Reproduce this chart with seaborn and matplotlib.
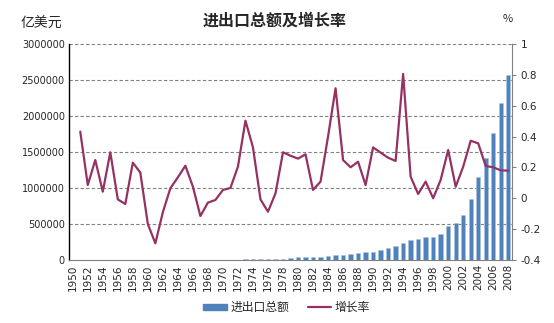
import matplotlib
matplotlib.use("Agg")
import matplotlib.pyplot as plt
import seaborn as sns
import numpy as np
import pandas as pd
from matplotlib.patches import Patch
from matplotlib.lines import Line2D

years = list(range(1950, 2009))
total_trade = [113000, 196000, 194000, 237000, 244000, 314000, 321000, 310000, 387000, 438000,
               381000, 294000, 266000, 292000, 347000, 425000, 462000, 416000, 405000, 403000,
               459000, 484000, 630000, 1098000, 1457000, 1475000, 1343000, 1480000, 2064000, 2933000,
               3814000, 4403000, 4161000, 4362000, 5355000, 6960000, 7385000, 8265000, 10279000, 11168000,
               11544000, 13570000, 16553000, 19570000, 23662000, 28086000, 28988000, 32516000, 32395000, 36063000,
               47429000, 50965000, 62077000, 85099000, 115455000, 142191000, 176040000, 217373000, 256326000]
total_trade = [v / 100 for v in total_trade]
growth_years = list(range(1951, 2009))
growth_rate = [0.432, 0.086, 0.248, 0.043, 0.298, -0.007, -0.037, 0.231, 0.166, -0.167,
               -0.292, -0.09, 0.065, 0.136, 0.211, 0.075, -0.115, -0.028, -0.011, 0.054,
               0.067, 0.205, 0.503, 0.33, -0.007, -0.087, 0.032, 0.298, 0.276, 0.257,
               0.285, 0.054, 0.108, 0.40, 0.713, 0.248, 0.201, 0.237, 0.086, 0.330,
               0.296, 0.263, 0.242, 0.806, 0.140, 0.028, 0.108, 0.0, 0.119, 0.313,
               0.075, 0.205, 0.373, 0.356, 0.209, 0.201, 0.181, 0.179]
left_ticks = [0, 500000, 1000000, 1500000, 2000000, 2500000, 3000000]
right_ticks = [-0.4, -0.2, 0, 0.2, 0.4, 0.6, 0.8, 1.0]
right_labels = ["-0.4", "-0.2", "0", "0.2", "0.4", "0.6", "0.8", "1"]
bar_label = "进出口总额"
line_label = "增长率"
title = "进出口总额及增长率"

sns.set_style("white")
plt.rcParams['font.family'] = ['Noto Sans CJK SC', 'DejaVu Sans']

bar_color = "#4F81BD"
line_color = "#953163"

fig = plt.figure(figsize=(5.54, 3.23), dpi=100)
ax = fig.add_axes([69/554, 1 - 260/323, (512-69)/554, (260-44)/323])

df_bar = pd.DataFrame({"year": [str(y) for y in years], "value": total_trade})
sns.barplot(data=df_bar, x="year", y="value", ax=ax, color=bar_color, width=0.58,
            edgecolor="#A9C2E0", linewidth=0.4, saturation=1)
ax.set_xlim(-0.5, len(years) - 0.5)
ax.set_ylim(0, 3000000)
ax.set_yticks(left_ticks)
ax.set_yticklabels([str(t) for t in left_ticks], fontsize=7, family="DejaVu Sans")
ax.set_xticks(range(0, len(years), 2))
ax.set_xticklabels([str(y) for y in years[::2]], rotation=90, fontsize=7.5, family="DejaVu Sans")
ax.set_xlabel("")
ax.set_ylabel("")
for t in left_ticks[1:]:
    ax.axhline(t, color="#808080", linestyle=(0, (3, 2)), linewidth=0.8, zorder=0)
for s in ["top", "right"]:
    ax.spines[s].set_visible(False)
ax.spines["left"].set_color("black")
ax.spines["left"].set_linewidth(1)
ax.spines["bottom"].set_color("#808080")
ax.tick_params(axis="both", length=0, pad=3)

ax2 = ax.twinx()
df_line = pd.DataFrame({"pos": [y - 1950 for y in growth_years], "rate": growth_rate})
sns.lineplot(data=df_line, x="pos", y="rate", ax=ax2, color=line_color, linewidth=1.6)
ax2.set_xlim(-0.5, len(years) - 0.5)
ax2.set_ylim(-0.4, 1.0)
ax2.set_yticks(right_ticks)
ax2.set_yticklabels(right_labels, fontsize=7.5, family="DejaVu Sans")
ax2.set_ylabel("")
ax2.set_xlabel("")
for s in ["top", "left", "bottom"]:
    ax2.spines[s].set_visible(False)
ax2.spines["right"].set_color("#808080")
ax2.tick_params(axis="y", length=3, color="#808080", pad=3, direction="out")

fig.text(274.7/554, 1 - 21/323, title, ha="center", va="center", fontsize=11.5, fontweight="bold")
fig.text(41/554, 1 - 24/323, "亿美元", ha="center", va="center", fontsize=10)
fig.text(507.5/554, 1 - 19/323, "%", ha="center", va="center", fontsize=8)

handles = [Patch(facecolor=bar_color, edgecolor=bar_color),
           Line2D([0], [0], color=line_color, linewidth=1.6)]
fig.legend(handles, [bar_label, line_label], loc="center", bbox_to_anchor=(286.5/554, 1 - 307.5/323),
           ncol=2, frameon=False, fontsize=8.5, handlelength=2.0, handleheight=0.45, columnspacing=1.6,
           handletextpad=0.3, borderpad=0)

fig.savefig("out.png", dpi=100)
